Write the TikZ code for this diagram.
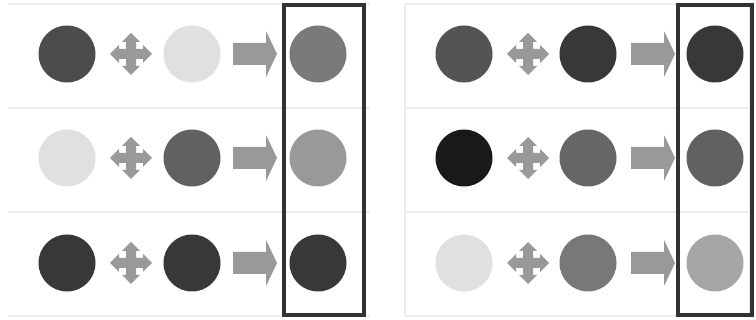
\documentclass[tikz,border=0pt]{standalone}
\begin{document}
\begin{tikzpicture}[x=1pt,y=-1pt,
  dot/.style={circle,minimum size=57pt,inner sep=0pt,draw=none},
  sep/.style={draw=black!7,line width=1.2pt},
  resbox/.style={draw=black!80,line width=3.5pt},
  arrowfill/.style={fill=black!40,draw=none}]
\useasboundingbox (0,0) rectangle (756,320);
\fill[white] (0,0) rectangle (756,320);
% separator lines
\foreach \yy in {4,108,212,316}{
  \draw[sep] (8,\yy) -- (370,\yy);
  \draw[sep] (405,\yy) -- (750,\yy);
}
\draw[sep] (405,4) -- (405,316);
\draw[sep] (750,4) -- (750,316);
% cross arrows
\foreach \cx/\cy in {131/54,131/158,131/263,528/54,528/158,528/263}{
  \begin{scope}[shift={(\cx,\cy)}]
  \fill[arrowfill] (-21,0) -- (-12,-9) -- (-12,-5) -- (-5,-5) -- (-5,-12) -- (-9,-12)
     -- (0,-21) -- (9,-12) -- (5,-12) -- (5,-5) -- (12,-5) -- (12,-9)
     -- (21,0) -- (12,9) -- (12,5) -- (5,5) -- (5,12) -- (9,12)
     -- (0,21) -- (-9,12) -- (-5,12) -- (-5,5) -- (-12,5) -- (-12,9) -- cycle;
  \end{scope}
}
% block arrows
\foreach \ax/\cy in {233/54,233/158,233/263,631/54,631/158,631/263}{
  \begin{scope}[shift={(\ax,\cy)}]
  \fill[arrowfill] (0,-11) -- (33,-11) -- (33,-23) -- (44,0) -- (33,23) -- (33,11) -- (0,11) -- cycle;
  \end{scope}
}
% circles left panel
\node[dot,fill=black!70] (l1a) at (67,54) {};
\node[dot,fill=black!12] (l1b) at (192,54) {};
\node[dot,fill=black!52] (l1c) at (318,54) {};
\node[dot,fill=black!12] (l2a) at (67,158) {};
\node[dot,fill=black!62] (l2b) at (192,158) {};
\node[dot,fill=black!40] (l2c) at (318,158) {};
\node[dot,fill=black!78] (l3a) at (67,263) {};
\node[dot,fill=black!78] (l3b) at (192,263) {};
\node[dot,fill=black!78] (l3c) at (318,263) {};
% circles right panel
\node[dot,fill=black!67] (r1a) at (464,54) {};
\node[dot,fill=black!78] (r1b) at (588,54) {};
\node[dot,fill=black!78] (r1c) at (715,54) {};
\node[dot,fill=black!90] (r2a) at (464,158) {};
\node[dot,fill=black!60] (r2b) at (588,158) {};
\node[dot,fill=black!62] (r2c) at (715,158) {};
\node[dot,fill=black!12] (r3a) at (464,263) {};
\node[dot,fill=black!53] (r3b) at (588,263) {};
\node[dot,fill=black!35] (r3c) at (715,263) {};
% result boxes
\draw[resbox] (284,5) rectangle (364,315);
\draw[resbox] (678,5) rectangle (752,315);
\end{tikzpicture}
\end{document}
